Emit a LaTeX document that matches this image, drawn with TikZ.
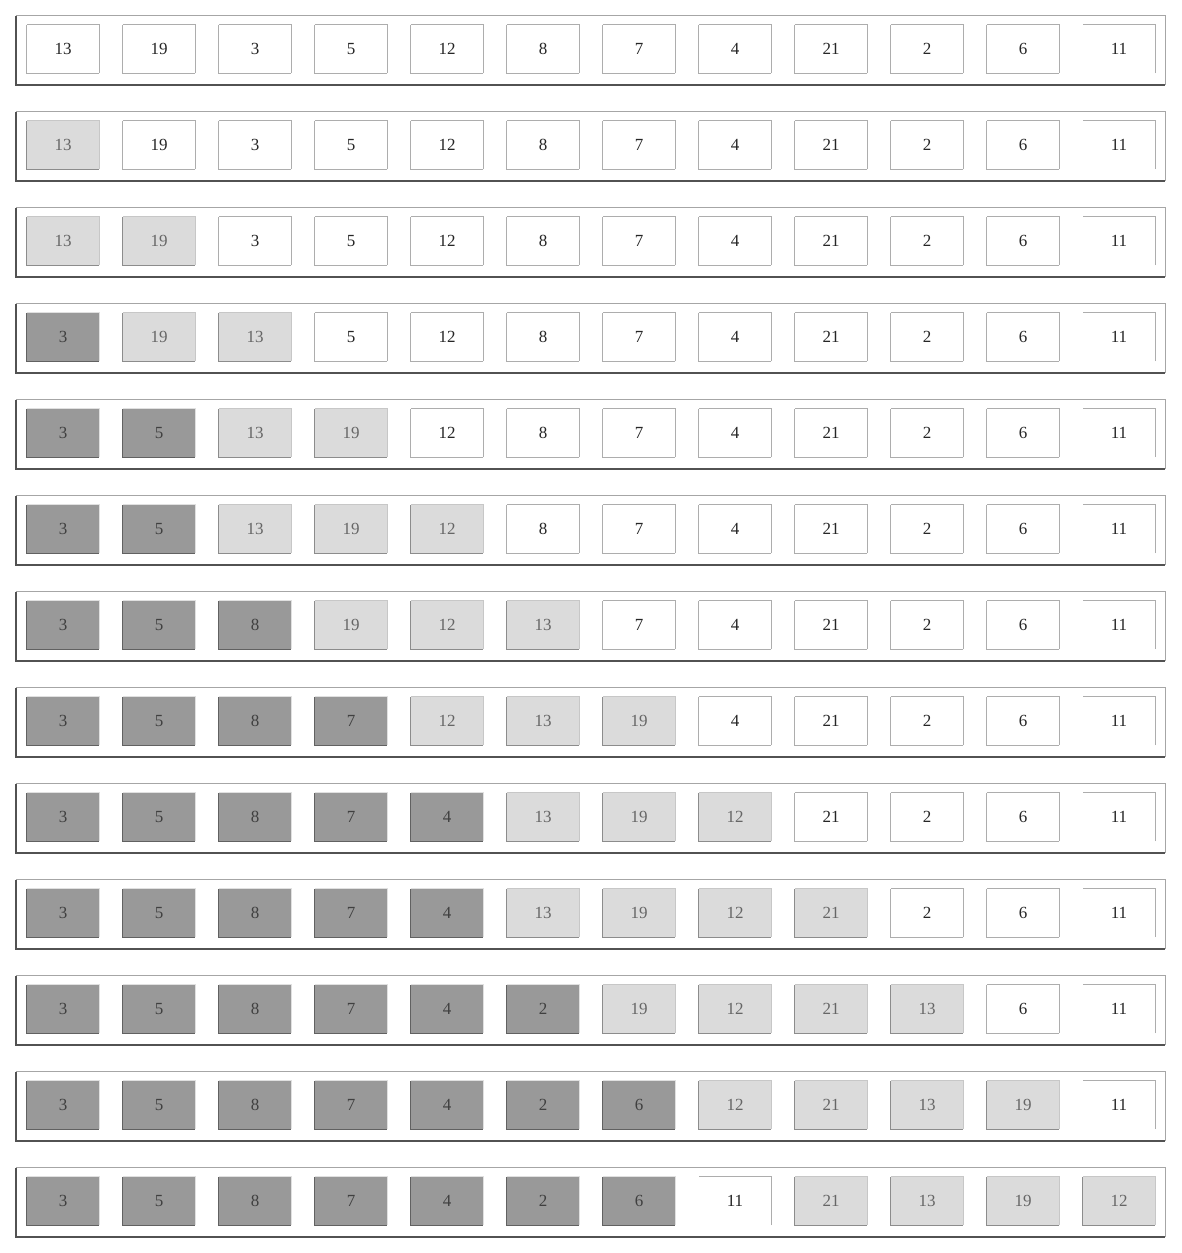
\documentclass[tikz,border=0pt]{standalone}
\usepackage{fontspec}
\setmainfont{Liberation Serif}
\colorlet{cfw}{white}\colorlet{ctw}{black!32}\colorlet{cbw}{black!32}\colorlet{cxw}{black!85}
\colorlet{cfl}{black!14}\colorlet{ctl}{black!22}\colorlet{cbl}{black!45}\colorlet{cxl}{black!60}
\colorlet{cfd}{black!40}\colorlet{ctd}{black!12}\colorlet{cbd}{black!62}\colorlet{cxd}{black!75}
\colorlet{cfp}{white}\colorlet{ctp}{black!32}\colorlet{cbp}{white}\colorlet{cxp}{black!85}
\begin{document}
\begin{tikzpicture}[x=1pt,y=-1pt,
  cellbox/.style={rectangle,inner sep=0pt,minimum width=72pt,minimum height=48pt,
    font=\fontsize{17}{17}\selectfont},
  framebox/.style={rectangle,inner sep=0pt,minimum width=1149pt,minimum height=69pt},
  frametr/.style={draw=black!35,line width=1pt},
  framebl/.style={draw=black!68,line width=2pt},
  edge/.style={line width=1pt}]
\useasboundingbox[fill=white] (0,0) rectangle (1181,1253);
\foreach \row [count=\r from 0] in {
 {13/w,19/w,3/w,5/w,12/w,8/w,7/w,4/w,21/w,2/w,6/w,11/p},
 {13/l,19/w,3/w,5/w,12/w,8/w,7/w,4/w,21/w,2/w,6/w,11/p},
 {13/l,19/l,3/w,5/w,12/w,8/w,7/w,4/w,21/w,2/w,6/w,11/p},
 {3/d,19/l,13/l,5/w,12/w,8/w,7/w,4/w,21/w,2/w,6/w,11/p},
 {3/d,5/d,13/l,19/l,12/w,8/w,7/w,4/w,21/w,2/w,6/w,11/p},
 {3/d,5/d,13/l,19/l,12/l,8/w,7/w,4/w,21/w,2/w,6/w,11/p},
 {3/d,5/d,8/d,19/l,12/l,13/l,7/w,4/w,21/w,2/w,6/w,11/p},
 {3/d,5/d,8/d,7/d,12/l,13/l,19/l,4/w,21/w,2/w,6/w,11/p},
 {3/d,5/d,8/d,7/d,4/d,13/l,19/l,12/l,21/w,2/w,6/w,11/p},
 {3/d,5/d,8/d,7/d,4/d,13/l,19/l,12/l,21/l,2/w,6/w,11/p},
 {3/d,5/d,8/d,7/d,4/d,2/d,19/l,12/l,21/l,13/l,6/w,11/p},
 {3/d,5/d,8/d,7/d,4/d,2/d,6/d,12/l,21/l,13/l,19/l,11/p},
 {3/d,5/d,8/d,7/d,4/d,2/d,6/d,11/p,21/l,13/l,19/l,12/l}} {
  \node[framebox] (f\r) at (590.5,{50.5+96*\r}) {};
  \draw[frametr] (f\r.north west) -- (f\r.north east) -- (f\r.south east);
  \draw[framebl] (f\r.north west) -- (f\r.south west) -- (f\r.south east);
  \foreach \v/\t [count=\c from 0] in \row {
    \node[cellbox,fill=cf\t,text=cx\t] (c\r-\c) at ({63+96*\c},{49+96*\r}) {\v};
    \draw[edge,draw=cb\t] (c\r-\c.north west) -- (c\r-\c.south west) -- (c\r-\c.south east);
    \draw[edge,draw=ct\t] (c\r-\c.south east) -- (c\r-\c.north east) -- (c\r-\c.north west);
  }
}
\end{tikzpicture}
\end{document}
